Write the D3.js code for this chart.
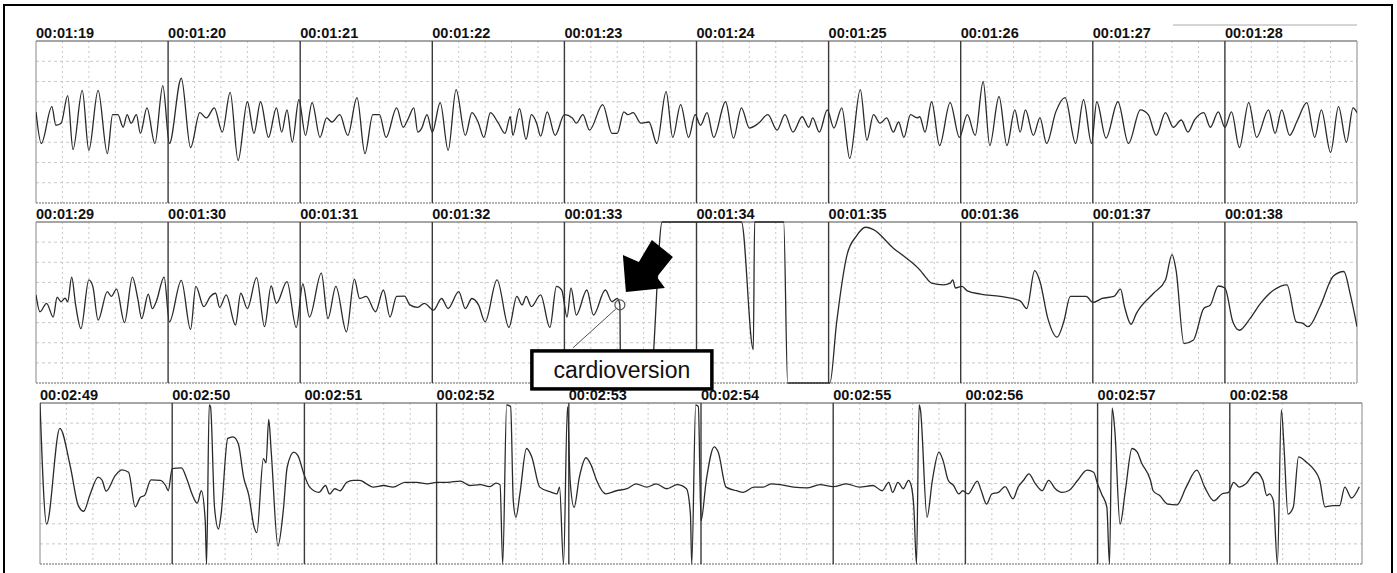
<!DOCTYPE html>
<html>
<head>
<meta charset="utf-8">
<script src="https://cdn.jsdelivr.net/npm/d3@7"></script>
<style>
    body { margin: 0; background: #fff; }
    svg { display: block; font-family: Arial, "Liberation Sans", sans-serif; }
</style>
</head>
<body>
<svg width="1397" height="573"></svg>
<script>
// time labels printed above each one-second box
let row1Labels = ["00:01:19", "00:01:20", "00:01:21", "00:01:22", "00:01:23", "00:01:24", "00:01:25", "00:01:26", "00:01:27", "00:01:28"]
let row2Labels = ["00:01:29", "00:01:30", "00:01:31", "00:01:32", "00:01:33", "00:01:34", "00:01:35", "00:01:36", "00:01:37", "00:01:38"]
let row3Labels = ["00:02:49", "00:02:50", "00:02:51", "00:02:52", "00:02:53", "00:02:54", "00:02:55", "00:02:56", "00:02:57", "00:02:58"]

// traces: [seconds into strip, amplitude in mm]
let row1Trace = [[0,2.5],[0.04,-5.3],[0.12,3.8],[0.15,-0.8],[0.19,-0.3],[0.24,6.5],[0.28,-6.8],[0.35,7.8],[0.40,-7],[0.47,7.8],[0.54,-7.8],[0.58,1.8],[0.62,1.8],[0.66,-1.3],[0.69,1.8],[0.72,-0.3],[0.76,1.8],[0.79,-2.8],[0.84,3.5],[0.90,-5.3],[0.96,9],[1.01,-5.3],[1.10,10.8],[1.17,-6.3],[1.24,2.3],[1.29,1],[1.35,3.5],[1.41,-2.5],[1.47,7.3],[1.53,-9.5],[1.60,5],[1.65,-2.8],[1.70,5],[1.76,-3.8],[1.82,3.5],[1.86,-2.5],[1.90,3],[1.94,-5],[1.99,5.5],[2.04,-3.3],[2.09,4.8],[2.15,-3.8],[2.20,1],[2.24,0],[2.30,1.8],[2.36,-3.3],[2.43,6],[2.49,-7.8],[2.55,1.8],[2.60,1.8],[2.65,-3.8],[2.73,3.5],[2.78,-1.3],[2.82,1],[2.86,3.5],[2.89,-2.5],[2.92,-1.5],[2.96,1.8],[3.00,-2.5],[3.06,4.8],[3.12,-7],[3.18,8],[3.25,-3.3],[3.30,2.3],[3.35,-0.3],[3.39,-3.8],[3.44,2.3],[3.50,-0.3],[3.55,-2.8],[3.59,1.3],[3.61,-3.3],[3.66,3.3],[3.71,-4.3],[3.75,1.8],[3.79,-0.3],[3.82,-3.5],[3.87,2.5],[3.93,-3.3],[4.00,1.8],[4.06,1],[4.09,-0.3],[4.14,1.8],[4.19,-2],[4.29,4.3],[4.36,-2.8],[4.40,-2.8],[4.45,2.5],[4.48,1.8],[4.52,2.3],[4.58,-0.3],[4.64,0],[4.70,-5.3],[4.77,7.5],[4.82,-3.8],[4.88,4.3],[4.94,-3.8],[4.99,1.8],[5.03,-0.8],[5.08,2.3],[5.13,-3.8],[5.22,5],[5.28,-4],[5.34,3.5],[5.40,-1.5],[5.47,-0.3],[5.54,1.8],[5.61,-2],[5.67,1.8],[5.73,-2.5],[5.80,1.3],[5.85,-1.3],[5.88,1],[5.93,-2.5],[5.99,3],[6.04,-1.5],[6.10,3.5],[6.16,-9],[6.24,8],[6.29,-4.5],[6.34,1.8],[6.39,-0.3],[6.44,1],[6.49,-2.5],[6.53,0],[6.57,-3.8],[6.62,1.8],[6.67,1],[6.69,1.3],[6.73,-2.5],[6.78,5],[6.84,-5.8],[6.92,4.8],[6.99,-3.8],[7.05,1.8],[7.11,-3.3],[7.17,10],[7.22,-5.8],[7.29,6.3],[7.35,-5.8],[7.41,3],[7.45,-2.5],[7.49,3],[7.55,-3.3],[7.60,1],[7.65,-5.3],[7.72,2.5],[7.79,6],[7.87,-5.3],[7.93,5.5],[7.99,-5.3],[8.03,5],[8.10,-4],[8.19,5],[8.27,-5.3],[8.36,3],[8.42,1.8],[8.48,-3.3],[8.55,2.3],[8.61,-1.3],[8.67,0.5],[8.72,-2.5],[8.77,0.5],[8.84,2.3],[8.89,-1.3],[8.95,2.5],[9.00,-1.3],[9.05,2.5],[9.11,-6.3],[9.18,4.8],[9.24,-3.8],[9.33,3],[9.38,-2.8],[9.43,3],[9.49,-3.3],[9.55,0.5],[9.62,4.8],[9.68,-3.8],[9.73,3],[9.80,-7.5],[9.86,3.8],[9.92,-5],[9.97,3.5],[10,2.3]]

let row2Trace = [[0,1.9],[0.03,-2.3],[0.08,-0.2],[0.13,-3.6],[0.16,1.3],[0.19,0.2],[0.22,1.1],[0.24,0.2],[0.27,6.3],[0.30,-0.6],[0.34,-6.5],[0.40,5.6],[0.43,4],[0.47,-4.4],[0.54,2.7],[0.57,1.5],[0.61,3.3],[0.67,-5],[0.73,6.3],[0.77,1],[0.80,-4],[0.85,2.1],[0.88,-1.5],[0.91,0.2],[0.97,6.3],[1.01,-4.8],[1.10,5.5],[1.17,-6.7],[1.21,4],[1.27,-1],[1.32,1.5],[1.36,2.3],[1.39,-1.2],[1.44,1.9],[1.51,-5.6],[1.55,2.3],[1.60,-1.5],[1.67,6.2],[1.73,-6],[1.78,4.1],[1.82,-0.2],[1.90,5.2],[1.97,-6.2],[2.02,4.6],[2.07,-3.6],[2.16,7.3],[2.21,-4],[2.27,4],[2.35,-7.3],[2.41,5.8],[2.45,1],[2.50,1.5],[2.57,-2.3],[2.63,3.1],[2.68,-3.6],[2.73,1.5],[2.79,1.6],[2.83,-0.6],[2.89,-1.2],[2.94,-0.2],[3.01,-1.9],[3.07,1],[3.12,-1.5],[3.20,2.7],[3.25,-1.5],[3.30,1],[3.35,-0.6],[3.40,-4.8],[3.49,5.6],[3.58,-6.2],[3.64,1.5],[3.68,-0.6],[3.71,1.5],[3.75,-1],[3.82,1.9],[3.89,-6.2],[3.94,4],[3.98,3.1],[4.02,-3.6],[4.05,3.6],[4.09,-3.1],[4.17,3.1],[4.22,-3.1],[4.31,3.1],[4.36,0.2],[4.40,1],[4.42,-0.6],[4.425,-20],[4.65,-20],[4.74,20],[5.34,20],[5.43,-11.7],[5.44,20],[5.66,20],[5.69,-20],[6.01,-20],[6.06,-5.2],[6.14,11.9],[6.21,16.5],[6.28,18.7],[6.34,18.1],[6.49,13.5],[6.59,11],[6.69,8.1],[6.73,6.5],[6.78,4.8],[6.87,4.4],[6.92,4.8],[6.94,5.6],[6.96,3.6],[7.01,4],[7.05,2.9],[7.15,2.1],[7.30,1.5],[7.45,0.4],[7.50,-1.5],[7.56,7.9],[7.60,5.2],[7.66,-4],[7.73,-8.6],[7.78,-4.8],[7.83,1.5],[7.95,1.5],[8.00,0],[8.07,1],[8.16,1.5],[8.21,3.3],[8.24,-1],[8.29,-5.4],[8.33,-2.7],[8.46,2.3],[8.55,5.6],[8.60,11.9],[8.63,8.1],[8.69,-10.2],[8.76,-9.4],[8.84,-1.5],[8.89,-0.6],[8.95,4.1],[9.00,3.6],[9.06,-4.8],[9.11,-6.9],[9.19,-4],[9.27,-0.2],[9.37,3.1],[9.47,4.4],[9.54,-4.8],[9.59,-5.2],[9.63,-6],[9.72,-1],[9.82,6.5],[9.90,7.7],[9.95,1.9],[10,-6]]

let row3Trace = [[0,20],[0.05,-10.1],[0.15,13.7],[0.23,4.1],[0.29,-5.5],[0.33,-6.9],[0.38,-2.6],[0.44,1.6],[0.47,0.8],[0.50,-1.9],[0.57,2],[0.62,3.4],[0.67,2.8],[0.72,-5.8],[0.76,-3.4],[0.79,-3],[0.84,0.9],[0.91,0.8],[0.95,-0.5],[0.97,-1.8],[1.00,3.7],[1.07,3.9],[1.11,1.2],[1.15,-2.6],[1.19,-4.9],[1.22,-1.8],[1.25,-9.3],[1.26,-20],[1.28,19.5],[1.29,19.1],[1.32,-5.9],[1.35,-11.3],[1.37,-7.6],[1.42,11.2],[1.46,11.6],[1.50,9.9],[1.54,1.6],[1.58,-3],[1.62,-10.9],[1.64,-12.2],[1.69,6.2],[1.71,5.1],[1.73,15.9],[1.75,7.4],[1.80,-15.5],[1.84,-6.8],[1.87,4.1],[1.92,7.8],[1.95,7],[2.00,2],[2.04,-0.9],[2.11,-2.2],[2.16,-0.5],[2.19,-2.6],[2.23,-1.3],[2.27,-1.8],[2.32,0.3],[2.37,0.8],[2.42,0.8],[2.47,-0.1],[2.52,-0.9],[2.60,-0.5],[2.67,-0.9],[2.76,0.3],[2.85,0.3],[2.93,-0.1],[3.00,0.3],[3.08,0.3],[3.18,0.6],[3.25,-0.5],[3.33,-0.3],[3.40,-0.8],[3.45,0.1],[3.48,-0.3],[3.50,-20],[3.53,19.5],[3.56,19.1],[3.58,-4.3],[3.60,-8.4],[3.63,-2.6],[3.68,8.7],[3.72,6.6],[3.78,-0.9],[3.87,-2.2],[3.91,-2.6],[3.93,-0.9],[3.96,-20],[3.99,19.1],[4.01,0.8],[4.04,-5.9],[4.08,1.6],[4.13,6.4],[4.17,4.5],[4.21,0.8],[4.28,-2.6],[4.36,-1.8],[4.44,-1.3],[4.51,-0.1],[4.59,-0.9],[4.66,-0.1],[4.74,-1.3],[4.82,-0.3],[4.89,-1.3],[4.92,-7.6],[4.93,-20],[4.96,19.5],[4.98,19.1],[5.00,-9.3],[5.04,0.8],[5.10,9.1],[5.13,7.8],[5.19,-0.9],[5.27,-1.8],[5.32,-2.2],[5.40,-0.9],[5.47,-0.9],[5.53,-0.1],[5.60,-0.3],[5.70,-0.9],[5.80,-1.1],[5.90,-0.3],[6.00,-0.8],[6.10,-0.1],[6.20,-0.9],[6.30,-0.5],[6.37,-1.8],[6.42,0.3],[6.45,-2.2],[6.49,0.3],[6.53,-1.3],[6.57,0.8],[6.59,-0.5],[6.61,-5.9],[6.63,-20],[6.65,19.5],[6.66,18.3],[6.71,-8.4],[6.75,0.8],[6.80,7.8],[6.83,5.8],[6.87,0.8],[6.91,-0.5],[6.95,-2.6],[6.98,-1.8],[7.02,-2.6],[7.09,0.6],[7.12,-1.8],[7.16,-5.1],[7.20,-2.6],[7.25,-2.2],[7.30,-0.8],[7.36,-3.8],[7.40,-0.8],[7.44,0.8],[7.48,2.4],[7.53,-0.1],[7.58,-1.8],[7.63,0.8],[7.68,-1.3],[7.73,-2.2],[7.78,-1.8],[7.85,0.8],[7.92,3.3],[7.97,2.8],[8.00,-0.1],[8.03,-2.6],[8.07,-5.9],[8.09,-20],[8.11,18.7],[8.13,13.3],[8.17,-10.1],[8.21,-1.8],[8.26,8.7],[8.30,7.8],[8.33,5.3],[8.40,0.8],[8.42,-1.8],[8.47,-3],[8.53,-5.1],[8.60,-5.3],[8.67,-0.9],[8.75,3.3],[8.81,-0.9],[8.88,-4.3],[8.94,-2.6],[8.99,-2.2],[9.03,0.3],[9.07,-0.9],[9.12,-0.1],[9.20,2.8],[9.25,0.8],[9.28,-3],[9.30,-2.6],[9.33,-4.3],[9.36,-20],[9.39,18.3],[9.41,9.1],[9.44,-7.6],[9.48,-5.9],[9.52,6.6],[9.58,5.3],[9.64,3.3],[9.68,0.8],[9.72,-5.8],[9.78,-5.5],[9.83,-5.5],[9.87,-0.9],[9.92,-3.6],[9.98,-0.8]]

// shock delivered on strip 2
let cardioversion = { label: "cardioversion", t: 4.42, v: -0.6 }

let strips = [
    { labels: row1Labels, trace: row1Trace, left: 36, right: 1357, top: 41, bottom: 203 },
    { labels: row2Labels, trace: row2Trace, left: 36, right: 1357, top: 222, bottom: 383 },
    { labels: row3Labels, trace: row3Trace, left: 40, right: 1362, top: 403, bottom: 564 }
]

let svg = d3.select("svg")

svg.append("rect")
    .attr("x", 4).attr("y", 5)
    .attr("width", 1388).attr("height", 600)
    .attr("fill", "none")
    .attr("stroke", "#000")
    .attr("stroke-width", 2)

// scanner streak top right
svg.append("line")
    .attr("x1", 1173).attr("x2", 1357).attr("y1", 25).attr("y2", 25)
    .attr("stroke", "#aaa")

let scales = []

strips.forEach(function (s, i) {
    let x = d3.scaleLinear().domain([0, 10]).range([s.left, s.right])
    let y = d3.scaleLinear().domain([-20, 20]).range([s.bottom, s.top])
    scales.push({ x, y })

    let g = svg.append("g").attr("class", "strip")

    let minorT = d3.range(0, 50).map(k => k / 5).filter(t => t % 1 != 0)
    g.selectAll(".vgrid")
        .data(minorT)
        .join("line")
        .attr("class", "vgrid")
        .attr("x1", d => x(d)).attr("x2", d => x(d))
        .attr("y1", s.top).attr("y2", s.bottom)
        .attr("stroke", "#c8c8c8")
        .attr("stroke-dasharray", "2,3")

    g.selectAll(".hgrid")
        .data([-15, -10, -5, 0, 5, 10, 15])
        .join("line")
        .attr("class", "hgrid")
        .attr("x1", s.left).attr("x2", s.right)
        .attr("y1", d => y(d)).attr("y2", d => y(d))
        .attr("stroke", "#c8c8c8")
        .attr("stroke-dasharray", "3,3")

    g.append("line")
        .attr("x1", s.left).attr("x2", s.right)
        .attr("y1", s.top).attr("y2", s.top)
        .attr("stroke", "#888").attr("stroke-width", 1.5)

    g.append("line")
        .attr("x1", s.left).attr("x2", s.right)
        .attr("y1", s.bottom).attr("y2", s.bottom)
        .attr("stroke", "#999").attr("stroke-width", 1.5)
        .attr("stroke-dasharray", "2,1")

    g.selectAll(".sec")
        .data(d3.range(0, 11))
        .join("line")
        .attr("class", "sec")
        .attr("x1", d => x(d)).attr("x2", d => x(d))
        .attr("y1", s.top).attr("y2", s.bottom)
        .attr("stroke", d => (d == 0 || d == 10) ? "#888" : "#3a3a3a")
        .attr("stroke-width", d => (d == 0 || d == 10) ? 1 : 1.4)

    g.selectAll(".lab")
        .data(s.labels)
        .join("text")
        .attr("class", "lab")
        .attr("x", (d, j) => x(j))
        .attr("y", s.top - 3)
        .style("font-size", "14.5px")
        .style("font-weight", "bold")
        .style("fill", "#111")
        .text(d => d)

    svg.append("clipPath")
        .attr("id", "clip" + i)
        .append("rect")
        .attr("x", s.left).attr("y", s.top - 1)
        .attr("width", s.right - s.left).attr("height", s.bottom - s.top + 2)

    let line = d3.line()
        .x(d => x(d[0]))
        .y(d => y(d[1]))
        .curve(d3.curveMonotoneX)

    g.append("path")
        .datum(s.trace)
        .attr("d", line)
        .attr("clip-path", `url(#clip${i})`)
        .style("fill", "none")
        .style("stroke", "#2a2a2a")
        .style("stroke-width", "1.3px")
        .style("stroke-linejoin", "round")
})

// annotation
let cx = scales[1].x(cardioversion.t)
let cy = scales[1].y(cardioversion.v)
let note = svg.append("g").attr("transform", `translate(${cx},${cy})`)

note.append("circle")
    .attr("r", 5)
    .attr("fill", "none")
    .attr("stroke", "#555")
    .attr("stroke-width", 1.2)

note.append("line")
    .attr("x1", -4).attr("y1", 4).attr("x2", -47).attr("y2", 43)
    .attr("stroke", "#555")

note.append("polygon")
    .attr("points", [[6, -13], [3, -50], [19, -43], [32, -65], [53, -48], [37, -28], [45, -17]].join(" "))
    .attr("fill", "#000")

note.append("rect")
    .attr("x", -88).attr("y", 46)
    .attr("width", 180).attr("height", 38)
    .attr("fill", "#fff")
    .attr("stroke", "#000")
    .attr("stroke-width", 3.5)

note.append("text")
    .attr("x", 2).attr("y", 73)
    .attr("text-anchor", "middle")
    .style("font-size", "23px")
    .style("fill", "#111")
    .text(cardioversion.label)
</script>
</body>
</html>
